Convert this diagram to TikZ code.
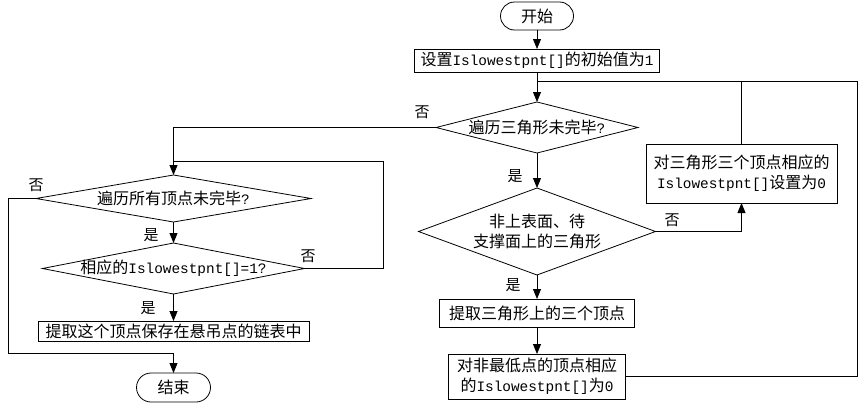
\documentclass[tikz,border=0pt]{standalone}
\usepackage{fontspec}
\setmainfont{Noto Sans CJK SC}
\newfontfamily\monofnt{Liberation Mono}[Scale=0.9]
\newcommand\lat[1]{{\monofnt #1}}
\usetikzlibrary{shapes.geometric,shapes.misc,arrows.meta}
\begin{document}
\begin{tikzpicture}[x=1pt,y=-1pt,
  font=\fontsize{16}{20}\selectfont,
  every node/.style={inner sep=0pt, outer sep=0pt},
  lw/.style={line width=0.8pt},
  box/.style={draw, lw, rectangle, align=center},
  term/.style={draw, lw, rounded rectangle, align=center},
  dia/.style={draw, lw, diamond, align=center, inner sep=-4pt},
  arr/.style={lw, -{Triangle[width=8pt,length=10pt]}},
  ln/.style={lw},
  lab/.style={font=\fontsize{15}{18}\selectfont}
]
\useasboundingbox (0,0) rectangle (865,407);

% right column
\node[term, minimum width=73pt, minimum height=28pt] (start) at (537,16) {开始};
\node[box, minimum width=245pt, minimum height=23pt] (init) at (537,60.5) {设置\lat{Islowestpnt[]}的初始值为\lat{1}};
\node[dia, aspect=3.96, minimum width=202pt, minimum height=51pt] (d1) at (537,127.5) {遍历三角形未完毕\lat{?}};
\node[dia, aspect=2.72, minimum width=237pt, minimum height=87pt] (d4) at (537,231.5) {非上表面、待\\支撑面上的三角形};
\node[box, minimum width=191pt, minimum height=59pt] (set0) at (741.5,173.5) {对三角形三个顶点相应的\\\lat{Islowestpnt[]}设置为\lat{0}};
\node[box, minimum width=195pt, minimum height=28pt] (take3) at (537,313) {提取三角形上的三个顶点};
\node[box, minimum width=177pt, minimum height=45pt] (nonlow) at (537,376.5) {对非最低点的顶点相应\\的\lat{Islowestpnt[]}为\lat{0}};

% left column
\node[dia, aspect=5.85, minimum width=275pt, minimum height=47pt] (d2) at (173.5,198.5) {遍历所有顶点未完毕\lat{?}};
\node[dia, aspect=5.14, minimum width=262pt, minimum height=51pt] (d3) at (173.5,268.5) {相应的\lat{Islowestpnt[]=1?}};
\node[box, minimum width=271pt, minimum height=20pt] (save) at (173.5,331) {提取这个顶点保存在悬吊点的链表中};
\node[term, minimum width=74pt, minimum height=29pt] (end) at (173.5,387.5) {结束};

% junction coordinates
\coordinate (j1) at (537,81);
\coordinate (r1) at (857,81);
\coordinate (r2) at (857,376.5);
\coordinate (l1) at (173.5,127.5);
\coordinate (j2) at (173.5,161);
\coordinate (m1) at (383,268.5);
\coordinate (m2) at (383,161);
\coordinate (e1) at (8,198.5);
\coordinate (e2) at (8,353);
\coordinate (e3) at (173.5,353);

% connectors right
\draw[arr] (start) -- (init);
\draw[arr] (init) -- (d1);
\draw[arr] (d1) -- (d4);
\draw[arr] (d4.east) -| (set0.south);
\draw[ln] (set0.north) -- (set0.north |- j1);
\draw[arr] (d4) -- (take3);
\draw[arr] (take3) -- (nonlow);
\draw[ln] (nonlow.east) -- (r2) -- (r1) -- (j1);

% connectors left
\draw[arr] (d1.west) -- (l1) -- (d2.north);
\draw[arr] (d2) -- (d3);
\draw[ln] (d3.east) -- (m1) -- (m2) -- (j2);
\draw[arr] (d3) -- (save);
\draw[arr] (d2.west) -- (e1) -- (e2) -- (e3) -- (end.north);

% labels
\node[lab] (n1) at (422,112) {否};
\node[lab] (y1) at (515,176) {是};
\node[lab] (n2) at (672,220) {否};
\node[lab] (y2) at (513,285) {是};
\node[lab] (n3) at (36,185) {否};
\node[lab] (y3) at (151,235) {是};
\node[lab] (n4) at (308,256) {否};
\node[lab] (y4) at (148,308) {是};
\end{tikzpicture}
\end{document}
